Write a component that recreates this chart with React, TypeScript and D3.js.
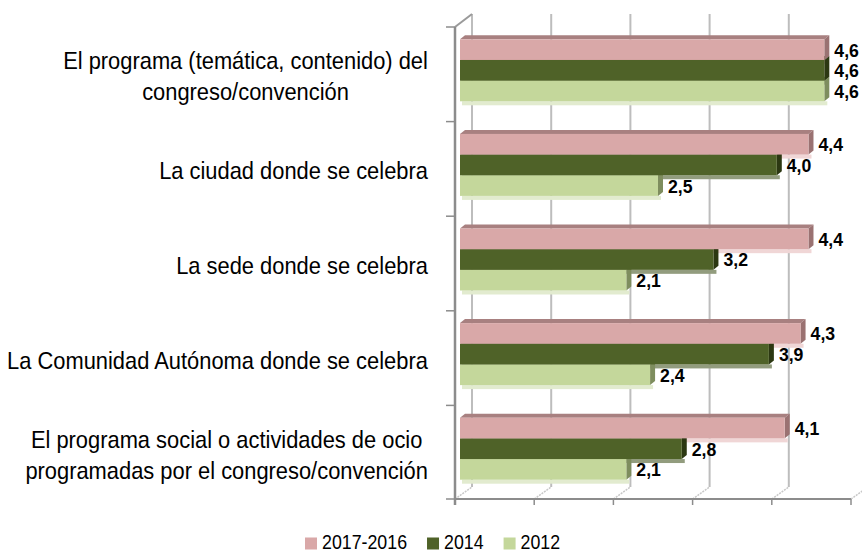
import React, { useEffect, useRef } from 'react';
import * as d3 from 'd3';

const categories = [
  'El programa (temática, contenido) del\ncongreso/convención',
  'La ciudad donde se celebra',
  'La sede donde se celebra',
  'La Comunidad Autónoma donde se celebra',
  'El programa social o actividades de ocio\nprogramadas por el congreso/convención',
];
const seriesNames = ['2017-2016', '2014', '2012'];
const values2017 = [4.6, 4.4, 4.4, 4.3, 4.1];
const values2014 = [4.6, 4.0, 3.2, 3.9, 2.8];
const values2012 = [4.6, 2.5, 2.1, 2.4, 2.1];
const xTicks = [0, 1, 2, 3, 4, 5];

const seriesValues = [values2017, values2014, values2012];
const palette = [
  { front: '#D9A8A8', top: '#A88080', side: '#9A7272', shadow: '#F0D6D6' },
  { front: '#4F6228', top: '#3A4A1C', side: '#2C3812', shadow: '#929C7E' },
  { front: '#C4D79B', top: '#9DAF78', side: '#7E8D5E', shadow: '#E2EBCF' },
];

const W = 862;
const H = 554;
const FONT = "'Liberation Sans', Arial, sans-serif";
const SX = 0.912; // horizontal condensing of the text

export default function App() {
  const ref = useRef<SVGSVGElement | null>(null);

  useEffect(() => {
    const svg = d3.select(ref.current);
    svg.selectAll('*').remove();

    const x = d3.scaleLinear().domain([0, 5]).range([455, 851]);
    const y = d3.scaleBand<string>().domain(categories).range([27, 500]);
    const inner = d3.scaleBand<string>().domain(seriesNames).range([-31, 31]);
    const backDx = 17, backDyTop = -13, backDyBot = -12;
    const bx = 5, by = -4; // bar front face offset (depth)
    const tx = 5, ty = -4; // bar thickness projection
    const yTop = 27, yBot = 499;

    const g = svg.append('g');

    // back wall gridlines
    g.selectAll('line.grid')
      .data(xTicks)
      .join('line')
      .attr('x1', (d) => x(d) + backDx)
      .attr('x2', (d) => x(d) + backDx)
      .attr('y1', yTop + backDyTop)
      .attr('y2', yBot + backDyBot)
      .attr('stroke', '#bdbdbd')
      .attr('stroke-width', 2);

    // floor diagonals
    g.selectAll('line.floor')
      .data(xTicks)
      .join('line')
      .attr('x1', (d) => x(d))
      .attr('y1', yBot)
      .attr('x2', (d) => x(d) + backDx)
      .attr('y2', yBot + backDyBot)
      .attr('stroke', '#c8c8c8')
      .attr('stroke-width', 1.5)
      .attr('stroke-dasharray', '2,1');

    // top-left diagonal
    g.append('line')
      .attr('x1', 455).attr('y1', yTop)
      .attr('x2', 455 + backDx).attr('y2', yTop + backDyTop)
      .attr('stroke', '#9a9a9a').attr('stroke-width', 2);

    // front floor axis
    g.append('line')
      .attr('x1', x(0)).attr('x2', x(5))
      .attr('y1', yBot).attr('y2', yBot)
      .attr('stroke', '#8c8c8c').attr('stroke-width', 2);
    g.selectAll('line.xtick')
      .data(xTicks)
      .join('line')
      .attr('x1', (d) => x(d)).attr('x2', (d) => x(d))
      .attr('y1', yBot).attr('y2', yBot + 6)
      .attr('stroke', '#8c8c8c').attr('stroke-width', 1.5);

    // left axis
    g.append('line')
      .attr('x1', 455).attr('x2', 455)
      .attr('y1', yTop).attr('y2', yBot + 6)
      .attr('stroke', '#8c8c8c').attr('stroke-width', 2.5);
    const bounds = categories.map((c) => y(c) as number).concat([yBot]);
    g.selectAll('line.ytick')
      .data(bounds)
      .join('line')
      .attr('x1', 446).attr('x2', 455)
      .attr('y1', (d) => d).attr('y2', (d) => d)
      .attr('stroke', '#8c8c8c').attr('stroke-width', 1.5);

    // bars
    const x0 = x(0) + bx;
    const barsG = g.append('g');
    categories.forEach((c, ci) => {
      const cy = (y(c) as number) + y.bandwidth() / 2;
      seriesNames.forEach((s, si) => {
        const v = seriesValues[si][ci];
        const top = cy + (inner(s) as number) + by;
        const h = inner.bandwidth();
        barsG.append('rect')
          .attr('x', x0 + 2)
          .attr('y', top + h)
          .attr('width', x(v) - x(0) + 1)
          .attr('height', 4)
          .attr('fill', palette[si].shadow);
      });
      [2, 1, 0].forEach((si) => {
        const s = seriesNames[si];
        const v = seriesValues[si][ci];
        const top = cy + (inner(s) as number) + by;
        const h = inner.bandwidth();
        const x1 = x(v) + bx;
        const col = palette[si];
        barsG.append('path')
          .attr('d', `M${x0},${top}L${x0 + tx},${top + ty}L${x1 + tx},${top + ty}L${x1},${top}Z`)
          .attr('fill', col.top);
        barsG.append('path')
          .attr('d', `M${x1},${top}L${x1 + tx},${top + ty}L${x1 + tx},${top + h + ty}L${x1},${top + h}Z`)
          .attr('fill', col.side);
        barsG.append('rect')
          .attr('x', x0).attr('y', top)
          .attr('width', x1 - x0).attr('height', h)
          .attr('fill', col.front);
      });
    });

    // value labels
    categories.forEach((c, ci) => {
      const cy = (y(c) as number) + y.bandwidth() / 2;
      seriesNames.forEach((s, si) => {
        const v = seriesValues[si][ci];
        const top = cy + (inner(s) as number) + by;
        const h = inner.bandwidth();
        g.append('g')
          .attr('transform', `translate(${x(v) + bx + 10},0) scale(0.93,1)`)
          .append('text')
          .attr('x', 0)
          .attr('y', top + h / 2 + 7)
          .attr('font-family', FONT)
          .attr('font-weight', 'bold')
          .attr('font-size', 19)
          .attr('fill', '#000')
          .text(d3.format('.1f')(v).replace('.', ','));
      });
    });

    // category labels
    const labelRight = 428;
    const pitch = 30.7;
    categories.forEach((c) => {
      const cy = (y(c) as number) + y.bandwidth() / 2 + 2;
      const lines = c.split('\n');
      const lgp = g.append('g');
      const t = lgp.append('text')
        .attr('font-family', FONT)
        .attr('font-size', 24)
        .attr('fill', '#000');
      const spans = lines.map((ln, li) =>
        t.append('tspan')
          .attr('x', 0)
          .attr('y', cy + 8.5 + (li - (lines.length - 1) / 2) * pitch)
          .text(ln)
      );
      const widths = spans.map((sp) => (sp.node() as SVGTextContentElement).getComputedTextLength());
      const maxW = Math.max(...widths) * SX;
      const center = labelRight - maxW / 2;
      spans.forEach((sp) => sp.attr('text-anchor', 'middle'));
      lgp.attr('transform', `translate(${center},0) scale(${SX},1)`);
    });

    // legend
    const lg = g.append('g');
    let lx = 305;
    seriesNames.forEach((s, i) => {
      lg.append('rect')
        .attr('x', lx).attr('y', 537.5)
        .attr('width', 12).attr('height', 12)
        .attr('fill', palette[i].front);
      const tg = lg.append('g').attr('transform', `translate(${lx + 17},0) scale(${SX},1)`);
      const tt = tg.append('text')
        .attr('x', 0).attr('y', 549.5)
        .attr('font-family', FONT)
        .attr('font-size', 19.5)
        .attr('fill', '#000')
        .text(s);
      const w = (tt.node() as SVGTextContentElement).getComputedTextLength() * SX;
      lx += 17 + w + 20;
    });
  }, []);

  return (
    <svg
      ref={ref}
      width={W}
      height={H}
      style={{ position: 'absolute', left: 0, top: 0, background: '#fff' }}
    />
  );
}
